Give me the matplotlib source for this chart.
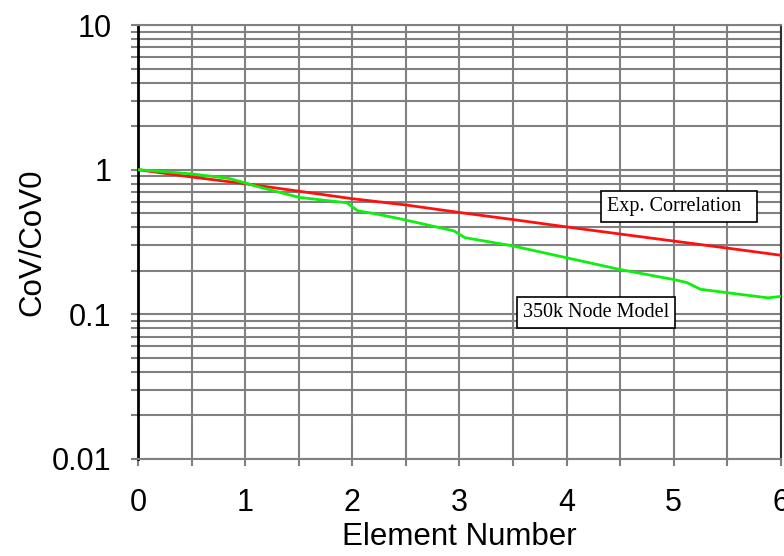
import numpy as np
import matplotlib.pyplot as plt
from matplotlib.ticker import FixedLocator, LogLocator, NullFormatter

# values
exp_x = [0, 0.5, 1.0, 1.5, 2.0, 2.5, 3.0, 3.5, 4.0, 4.5, 5.0, 5.5, 6.0]
exp_y = [1.0, 0.89, 0.80, 0.71, 0.63, 0.570, 0.506, 0.452, 0.402, 0.359, 0.321, 0.287, 0.256]

node_x = [0, 0.5, 0.85, 1.0, 1.1, 1.5, 1.95, 2.05, 2.25, 2.46, 2.95, 3.05, 3.5, 4.0, 4.5,
          5.0, 5.12, 5.25, 5.5, 5.88, 6.0]
node_y = [1.0, 0.935, 0.87, 0.81, 0.77, 0.644, 0.59, 0.52, 0.49, 0.455, 0.377, 0.339, 0.297,
          0.246, 0.204, 0.174, 0.166, 0.149, 0.141, 0.13, 0.133]

xticks = [0, 1, 2, 3, 4, 5, 6]
yticks = [0.01, 0.1, 1, 10]
ytick_labels = ['0.01', '0.1', '1', '10']

plt.rcParams['font.family'] = ['Liberation Sans', 'DejaVu Sans']

fig = plt.figure(figsize=(7.84, 5.56), dpi=100)
ax = fig.add_axes([0.176, 0.1745, 0.82, 0.7805])

ax.set_yscale('log')
ax.set_xlim(0, 6)
ax.set_ylim(0.01, 10)

ax.plot(exp_x, exp_y, color='#ff1010', lw=2, zorder=3)
ax.plot(node_x, node_y, color='#10ee10', lw=2, zorder=3)

ax.set_xticks(xticks)
ax.xaxis.set_minor_locator(FixedLocator(np.arange(0.5, 6, 1.0)))
ax.set_yticks(yticks)
ax.set_yticklabels(ytick_labels)
ax.yaxis.set_minor_locator(LogLocator(base=10, subs=np.arange(2, 10)))
ax.yaxis.set_minor_formatter(NullFormatter())

ax.grid(True, which='both', color='#808080', lw=1.5)
ax.set_axisbelow(True)

ax.tick_params(axis='both', which='both', color='#808080', width=1.5, length=5, labelsize=22)
ax.tick_params(axis='x', pad=16)
ax.tick_params(axis='y', pad=14)

for side in ['top', 'right', 'bottom']:
    ax.spines[side].set_color('#808080')
    ax.spines[side].set_linewidth(1.5)
ax.spines['right'].set_color('#303030')
ax.spines['left'].set_color('black')
ax.spines['left'].set_linewidth(2)

ax.set_xlabel('Element Number', fontsize=22.5, labelpad=3)
ax.set_ylabel('CoV/CoV0', fontsize=22.5, labelpad=3)

box = dict(boxstyle='square,pad=0.3', fc='white', ec='black', lw=1.2)
ax.text(4.376, 0.558, 'Exp. Correlation  ', fontsize=14.5, family='Liberation Serif',
        va='center', bbox=box, zorder=4)
ax.text(3.59, 0.1037, '350k Node Model', fontsize=14.5, family='Liberation Serif',
        va='center', bbox=box, zorder=4)

fig.savefig('out.png', dpi=100)
